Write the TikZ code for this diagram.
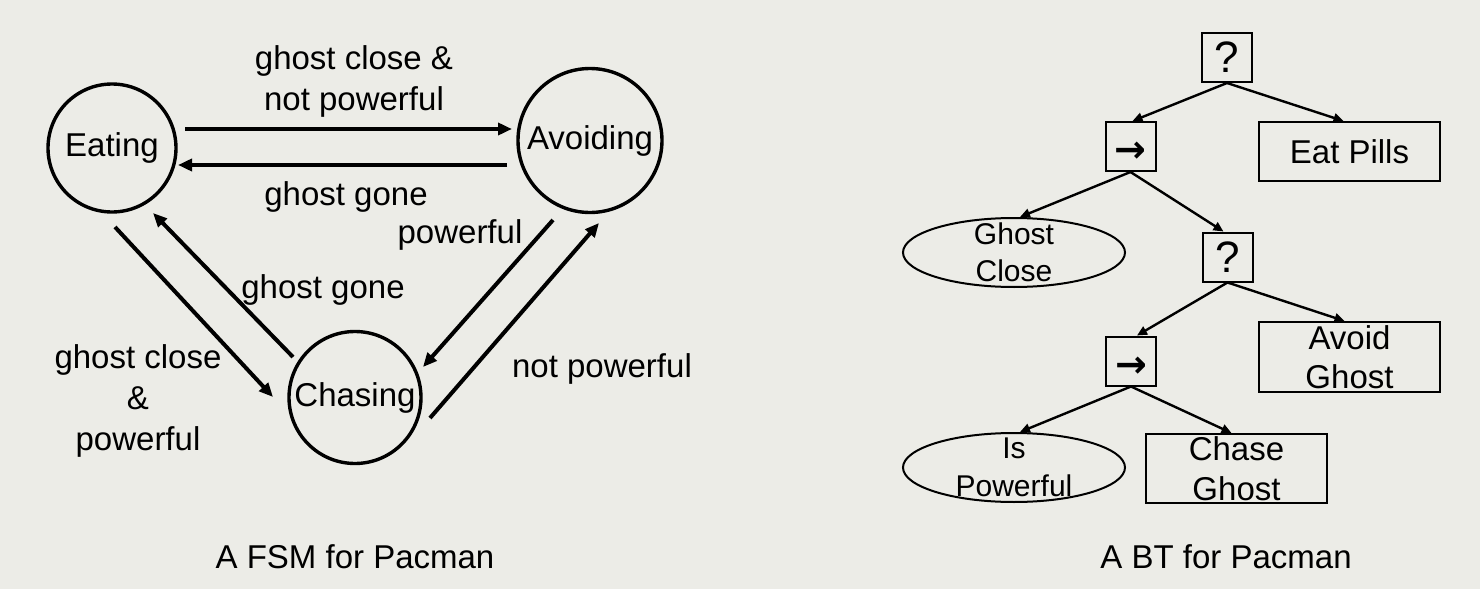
\documentclass[tikz,border=0pt]{standalone}
\usepackage{fontspec}
\setmainfont{Liberation Sans}
\newfontfamily\arrowfont{DejaVu Sans}
\usetikzlibrary{%
        arrows.meta,
        shapes.geometric}
\definecolor{slidebg}{RGB}{236,236,231}
\tikzset{%
    fsmstate/.style={circle, draw, line width=1.7pt, inner sep=0pt,
        font=\fontsize{16.5}{20.5}\selectfont},
    fsmarrow/.style={line width=2pt, -{Triangle[length=7pt, width=6pt]}},
    fsmlabel/.style={font=\fontsize{16.5}{20.5}\selectfont, align=center,
        anchor=base, inner sep=0pt},
    btctrl/.style={rectangle, draw, line width=1pt, minimum width=25pt,
        minimum height=24.5pt, inner sep=0pt},
    btseq/.style={btctrl, label={[font=\arrowfont\bfseries\fontsize{19}{22}\selectfont,
        yshift=-3pt]center:→}},
    btaction/.style={rectangle, draw, line width=1pt, minimum width=90.5pt,
        inner sep=0pt, align=center, font=\fontsize{16.5}{19.75}\selectfont},
    btcheck/.style={ellipse, draw, line width=1pt, minimum width=111pt,
        minimum height=34.5pt, inner sep=0pt},
    btarrow/.style={line width=1.2pt, -{Triangle[length=5pt, width=4.5pt]}}
}

\begin{document}
\begin{tikzpicture}[x=0.5pt, y=-0.5pt]

    \fill[slidebg] (0, 0) rectangle (1480, 589);
    \useasboundingbox (0, 0) rectangle (1480, 589);

    % finite state machine
    \node[fsmstate, minimum size=64pt] (eating) at (112, 148) {Eating};
    \node[fsmstate, minimum size=72pt] (avoiding) at (590, 140.5) {Avoiding};
    \node[fsmstate, minimum size=66pt] (chasing) at (355, 397.5) {Chasing};

    \draw[fsmarrow] ([shift={(73, -19)}] eating.center) --
        ([shift={(-78, -11.5)}] avoiding.center);
    \draw[fsmarrow] ([shift={(-83, 24.5)}] avoiding.center) --
        ([shift={(66, 17)}] eating.center);
    \draw[fsmarrow] ([shift={(3, 79)}] eating.center) --
        ([shift={(-82, -0.5)}] chasing.center);
    \draw[fsmarrow] ([shift={(-62, -40.5)}] chasing.center) --
        ([shift={(41, 65)}] eating.center);
    \draw[fsmarrow] ([shift={(-37, 79.5)}] avoiding.center) --
        ([shift={(68, -30.5)}] chasing.center);
    \draw[fsmarrow] ([shift={(75, 20.5)}] chasing.center) --
        ([shift={(9, 82.5)}] avoiding.center);

    \node[fsmlabel] (closeweak) at (354, 110) {ghost close \&\\not powerful};
    \node[fsmlabel] (goneavoid) at (346, 205) {ghost gone};
    \node[fsmlabel] (powerup) at (460, 243) {powerful};
    \node[fsmlabel] (gonechase) at (323, 298) {ghost gone};
    \node[fsmlabel] (closestrong) at (138, 450) {ghost close\\\&\\powerful};
    \node[fsmlabel] (powerdown) at (602, 377) {not powerful};
    \node[fsmlabel] (fsmcaption) at (355, 568) {A FSM for Pacman};

    % behaviour tree
    \node[btctrl, font=\fontsize{22}{26}\selectfont] (root) at (1227, 57.5) {?};
    \node[btseq] (seqone) at (1130.5, 146.5) {};
    \node[btaction, minimum height=29.5pt] (eatpills) at (1349.5, 151.5) {Eat Pills};
    \node[btcheck, label={[align=center, font=\fontsize{15}{18.75}\selectfont]%
        center:Ghost\\Close}] (ghostclose) at (1014, 252.5) {};
    \node[btctrl, font=\fontsize{22}{26}\selectfont] (fallback) at (1227.5, 257) {?};
    \node[btaction, minimum height=35pt] (avoidghost) at (1349.5, 357) {Avoid\\Ghost};
    \node[btseq] (seqtwo) at (1131, 361) {};
    \node[btcheck, label={[align=center, font=\fontsize{15}{18.75}\selectfont]%
        center:Is\\Powerful}] (ispowerful) at (1014, 467.5) {};
    \node[btaction, minimum height=34.5pt] (chaseghost) at (1236.5, 468.5) {Chase\\Ghost};

    \draw[btarrow] (root.south) -- ([xshift=1pt] seqone.north);
    \draw[btarrow] (root.south) -- ([xshift=-3pt] eatpills.north);
    \draw[btarrow] (seqone.south) -- ([xshift=3pt] ghostclose.north);
    \draw[btarrow] (seqone.south) -- ([xshift=-2pt] fallback.north);
    \draw[btarrow] (fallback.south) -- ([xshift=3pt] seqtwo.north);
    \draw[btarrow] (fallback.south) -- ([xshift=-2.5pt] avoidghost.north);
    \draw[btarrow] (seqtwo.south) -- ([xshift=3pt] ispowerful.north);
    \draw[btarrow] (seqtwo.south) -- ([xshift=-2.5pt] chaseghost.north);

    \node[fsmlabel] (btcaption) at (1226, 568) {A BT for Pacman};

\end{tikzpicture}
\end{document}
